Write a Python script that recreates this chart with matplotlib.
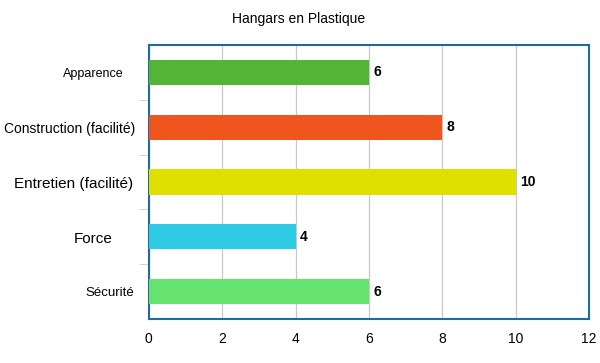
import matplotlib
matplotlib.use('Agg')
import matplotlib.pyplot as plt
import numpy as np

plt.rcParams['font.family'] = ['Liberation Sans', 'DejaVu Sans']

categories = ['Apparence', 'Construction (facilité)', 'Entretien (facilité)', 'Force', 'Sécurité']
values = [6, 8, 10, 4, 6]
colors = ['#52b535', '#ef561d', '#dfe000', '#2fcbe5', '#66e271']
# each label in the original has its own size and offset
label_sizes = [9, 10, 11, 11, 9.5]
label_pads = [25, 14, 16, 36, 15]
xticks = [0, 2, 4, 6, 8, 10, 12]

fig = plt.figure(figsize=(6, 3.63), dpi=100)
ax = fig.add_axes([0.248, 0.121, 0.734, 0.755])
ax_w = 0.734 * 600

y = np.arange(len(categories))
ax.barh(y, values, height=0.46, color=colors, zorder=3)
for yi, v in zip(y, values):
    ax.text(v + 0.12, yi, str(v), va='center', ha='left', fontsize=10, fontweight='bold', zorder=4)

ax.set_xlim(0, 12)
ax.set_ylim(len(categories) - 0.5, -0.5)
ax.set_xticks(xticks)
ax.set_xticklabels([str(t) for t in xticks], fontsize=10)
ax.tick_params(axis='x', length=0, pad=9)
ax.grid(axis='x', color='#c8c8c8', linewidth=0.9, zorder=0)

ax.set_yticks(y)
ax.set_yticklabels([])
ax.tick_params(axis='y', length=0)
for yi, cat, s, p in zip(y, categories, label_sizes, label_pads):
    ax.text(-p / ax_w, yi + 0.03, cat, ha='right', va='center', fontsize=s,
            transform=ax.get_yaxis_transform(), clip_on=False)
ax.set_yticks(np.arange(0.5, len(categories) - 0.5, 1), minor=True)
ax.tick_params(axis='y', which='minor', length=7, color='#cccccc')

for sp in ax.spines.values():
    sp.set_color('#1f6a9e')
    sp.set_linewidth(1.5)

fig.text(0.498, 0.948, 'Hangars en Plastique', ha='center', va='center', fontsize=10,
         family=['Liberation Sans Narrow', 'Liberation Sans'])

fig.savefig('out.png', dpi=100)
